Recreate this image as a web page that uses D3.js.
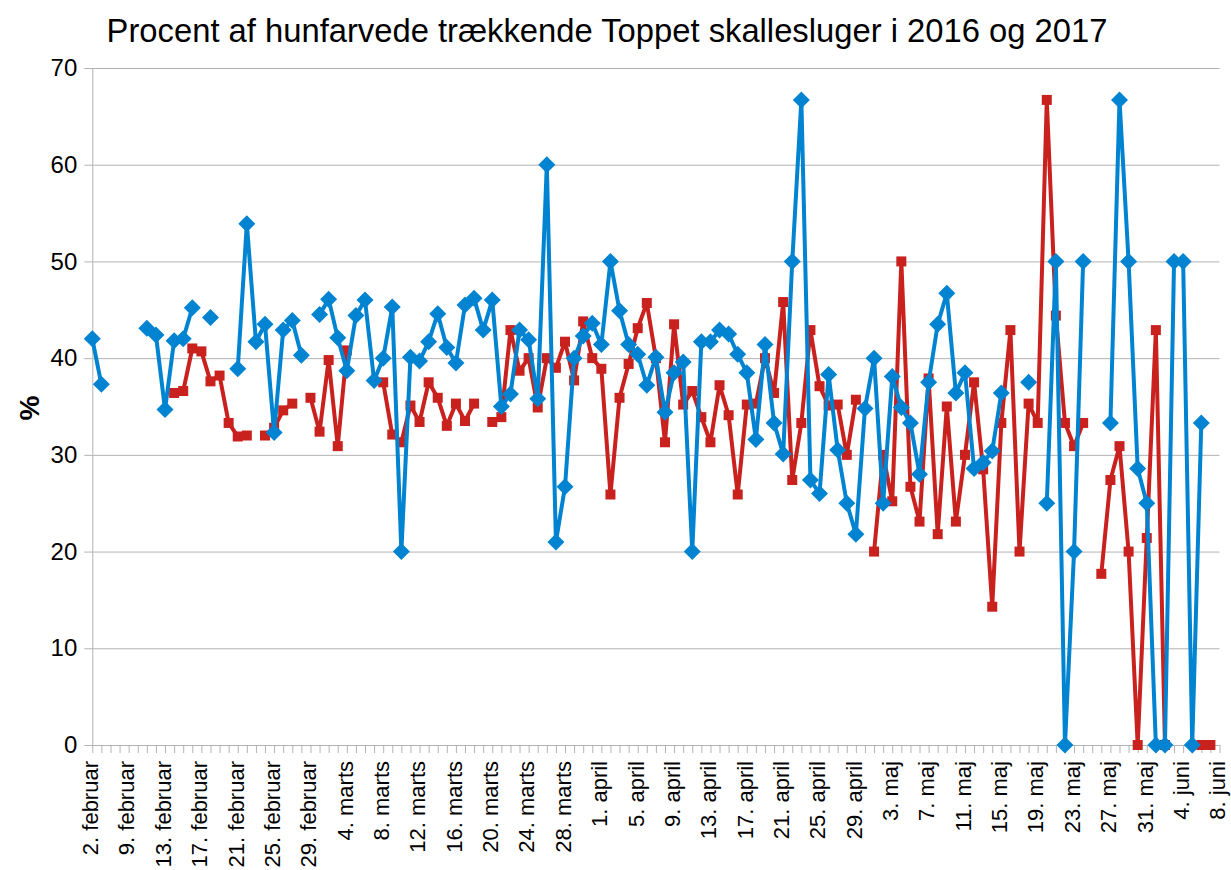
<!DOCTYPE html>
<html><head><meta charset="utf-8">
<script src="https://cdn.jsdelivr.net/npm/d3@7"></script>
<style>
html,body{margin:0;padding:0;background:#fff;}
svg{display:block;font-family:"Liberation Sans",Arial,sans-serif;}
</style></head>
<body>
<svg id="chart" width="1231" height="870"></svg>
<script>
const title = "Procent af hunfarvede trækkende Toppet skallesluger i 2016 og 2017";
const yLabel = "%";
const categories = [
"2. februar","6. februar","7. februar","8. februar","9. februar","10. februar","11. februar","12. februar","13. februar","14. februar",
"15. februar","16. februar","17. februar","18. februar","19. februar","20. februar","21. februar","22. februar","23. februar","24. februar",
"25. februar","26. februar","27. februar","28. februar","29. februar",
"1. marts","2. marts","3. marts","4. marts","5. marts","6. marts","7. marts","8. marts","9. marts","10. marts",
"11. marts","12. marts","13. marts","14. marts","15. marts","16. marts","17. marts","18. marts","19. marts","20. marts",
"21. marts","22. marts","23. marts","24. marts","25. marts","26. marts","27. marts","28. marts","29. marts","30. marts","31. marts",
"1. april","2. april","3. april","4. april","5. april","6. april","7. april","8. april","9. april","10. april",
"11. april","12. april","13. april","14. april","15. april","16. april","17. april","18. april","19. april","20. april",
"21. april","22. april","23. april","24. april","25. april","26. april","27. april","28. april","29. april","30. april",
"1. maj","2. maj","3. maj","4. maj","5. maj","6. maj","7. maj","8. maj","9. maj","10. maj",
"11. maj","12. maj","13. maj","14. maj","15. maj","16. maj","17. maj","18. maj","19. maj","20. maj",
"21. maj","22. maj","23. maj","24. maj","25. maj","26. maj","27. maj","28. maj","29. maj","30. maj","31. maj",
"1. juni","2. juni","3. juni","4. juni","5. juni","6. juni","7. juni","8. juni"
];
// blue series (diamonds)
const blueValues = [
42.0,37.3,null,null,null,null,43.1,42.4,34.7,41.8,
42.0,45.2,null,44.2,null,null,38.9,53.9,41.7,43.5,
32.3,42.9,43.9,40.3,null,44.5,46.1,42.1,38.7,44.4,
46.0,37.7,40.0,45.3,20.0,40.1,39.7,41.7,44.6,41.1,
39.5,45.5,46.2,42.9,46.0,35.0,36.3,42.9,41.9,35.8,
60.0,21.0,26.7,40.0,42.3,43.6,41.4,50.0,44.9,41.4,
40.4,37.2,40.1,34.4,38.5,39.6,20.0,41.7,41.7,42.9,
42.5,40.4,38.5,31.6,41.4,33.3,30.1,50.0,66.7,27.4,
26.0,38.3,30.5,25.0,21.8,34.8,40.0,25.0,38.1,34.9,
33.3,28.0,37.5,43.5,46.7,36.4,38.5,28.6,29.2,30.4,
36.4,null,null,37.5,null,25.0,50.0,0,20.0,50.0,
null,null,33.3,66.7,50.0,28.6,25.0,0,0,50.0,
50.0,0,33.3,null,null
];
// red series (squares)
const redValues = [
null,null,null,null,null,null,null,null,null,36.4,
36.6,41.0,40.7,37.6,38.2,33.3,31.9,32.0,null,32.0,
32.8,34.6,35.3,null,35.9,32.4,39.8,30.9,40.8,null,
null,null,37.5,32.1,31.3,35.1,33.4,37.5,35.9,33.0,
35.3,33.5,35.3,null,33.4,33.9,42.9,38.7,40.0,34.9,
40.0,39.0,41.7,37.7,43.8,40.0,38.9,25.9,35.9,39.4,
43.1,45.7,40.0,31.3,43.5,35.2,36.6,33.9,31.3,37.2,
34.1,25.9,35.2,35.3,40.0,36.4,45.8,27.4,33.3,42.9,
37.1,35.1,35.2,30.0,35.7,null,20.0,30.0,25.2,50.0,
26.7,23.1,37.9,21.8,35.0,23.1,30.0,37.5,28.5,14.3,
33.3,42.9,20.0,35.3,33.3,66.7,44.4,33.3,30.9,33.3,
null,17.7,27.4,30.9,20.0,0,21.4,42.9,0,null,
null,null,0,0,null
];
const yTicks = [0,10,20,30,40,50,60,70];

(function () {
const svg = d3.select("#chart");
const pLeft = 92.3, pRight = 1219.5, pTop = 68, pBottom = 745;

const x = d3.scalePoint().domain(categories).range([pLeft, pRight]);
const y = d3.scaleLinear().domain([0, 70]).range([pBottom, pTop]);
const gridColor = "#b3b3b3";

// gridlines
svg.append("g")
  .attr("transform", `translate(${pLeft},0)`)
  .call(d3.axisLeft(y).tickValues(yTicks).tickSize(-(pRight - pLeft)).tickFormat(""))
  .call(g => g.select(".domain").remove())
  .call(g => g.selectAll("line").attr("stroke", gridColor).attr("stroke-width", 1));

// y axis
svg.append("g")
  .attr("transform", `translate(${pLeft},0)`)
  .call(d3.axisLeft(y).tickValues(yTicks).tickSize(8).tickPadding(7))
  .call(g => g.select(".domain").attr("stroke", gridColor).attr("d", `M0.5,${pTop}V${pBottom}`))
  .call(g => g.selectAll("line").attr("stroke", gridColor))
  .call(g => g.selectAll("text").attr("font-size", 24).attr("fill", "#000")
      .attr("font-family", "Liberation Sans, Arial, sans-serif"));

// x axis
const xAxis = svg.append("g")
  .attr("transform", `translate(0,${pBottom})`)
  .call(d3.axisBottom(x).tickSize(8).tickFormat((d, i) => i % 4 === 0 ? d : ""))
  .call(g => g.select(".domain").attr("stroke", gridColor).attr("d", `M${pLeft},0.5H${pRight}`))
  .call(g => g.selectAll("line").attr("stroke", gridColor));
xAxis.selectAll("text")
  .attr("font-size", 22).attr("fill", "#000")
  .attr("font-family", "Liberation Sans, Arial, sans-serif")
  .attr("transform", "rotate(-90)")
  .attr("text-anchor", "end")
  .attr("dy", "0.24em")
  .attr("x", -16)
  .attr("y", 0);

// series
function drawSeries(values, color, shape) {
  const data = values.map((v, i) => ({c: categories[i], v}));
  const line = d3.line().defined(d => d.v !== null).x(d => x(d.c)).y(d => y(d.v));
  svg.append("path").datum(data).attr("d", line)
    .attr("fill", "none").attr("stroke", color).attr("stroke-width", 4)
    .attr("stroke-linejoin", "round");
  const pts = data.filter(d => d.v !== null);
  if (shape === "diamond") {
    const r = 8.5;
    svg.append("g").selectAll("path").data(pts).join("path")
      .attr("d", d => `M${x(d.c)},${y(d.v) - r}L${x(d.c) + r},${y(d.v)}L${x(d.c)},${y(d.v) + r}L${x(d.c) - r},${y(d.v)}Z`)
      .attr("fill", color);
  } else {
    const s = 10;
    svg.append("g").selectAll("rect").data(pts).join("rect")
      .attr("x", d => x(d.c) - s / 2).attr("y", d => y(d.v) - s / 2)
      .attr("width", s).attr("height", s).attr("fill", color);
  }
}
drawSeries(redValues, "#c9211e", "square");
drawSeries(blueValues, "#0084d1", "diamond");

// title
const t = svg.append("text").attr("x", 607).attr("y", 42).attr("text-anchor", "middle")
  .attr("font-size", 100).attr("fill", "#000").text(title);
const len = t.node().getComputedTextLength();
t.attr("font-size", 100 * 1001 / len);

// y label
svg.append("text").attr("transform", "translate(39,408) rotate(-90)")
  .attr("text-anchor", "middle").attr("font-size", 28).attr("font-weight", "bold")
  .attr("fill", "#000").text(yLabel);
})();
</script>
</body></html>
